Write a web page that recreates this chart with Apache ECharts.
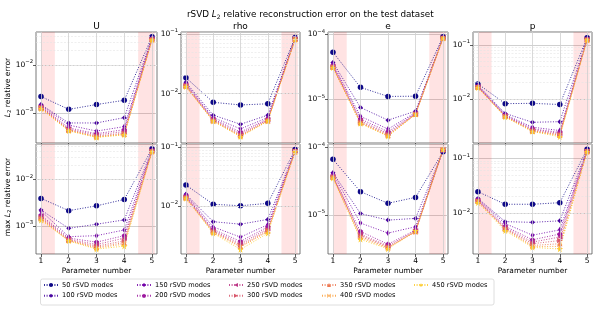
<!DOCTYPE html>
<html><head><meta charset="utf-8">
<script src="https://cdn.jsdelivr.net/npm/echarts@6/dist/echarts.min.js"></script>
<style>html,body{margin:0;padding:0;background:#fff}#c{width:598px;height:309px}</style>
</head><body><div id="c"></div>
<script>
// ---------------- data ----------------
const modes = [50, 100, 150, 200, 250, 300, 350, 400, 450];
const params = [1, 2, 3, 4, 5];
const panelNames = ['U', 'rho', 'e', 'p'];

// L2 relative error (top row)
const U_L2 = [
  [2.2e-3, 1.19e-3, 1.5e-3, 1.84e-3, 0.039],
  [1.5e-3, 6.2e-4, 6.2e-4, 8.0e-4, 0.037],
  [1.45e-3, 5.6e-4, 4.2e-4, 5.2e-4, 0.036],
  [1.38e-3, 4.9e-4, 3.7e-4, 4.5e-4, 0.035],
  [1.33e-3, 4.6e-4, 3.5e-4, 4.1e-4, 0.035],
  [1.3e-3, 4.45e-4, 3.3e-4, 3.8e-4, 0.034],
  [1.27e-3, 4.35e-4, 3.2e-4, 3.65e-4, 0.034],
  [1.25e-3, 4.3e-4, 3.15e-4, 3.55e-4, 0.033],
  [1.23e-3, 4.25e-4, 3.1e-4, 3.5e-4, 0.033]
];
const rho_L2 = [
  [0.0185, 7.2e-3, 6.5e-3, 6.8e-3, 0.087],
  [0.0155, 4.4e-3, 3.1e-3, 4.4e-3, 0.085],
  [0.0147, 4.0e-3, 2.6e-3, 4.0e-3, 0.084],
  [0.0142, 3.8e-3, 2.3e-3, 3.8e-3, 0.083],
  [0.0138, 3.7e-3, 2.15e-3, 3.7e-3, 0.082],
  [0.0136, 3.6e-3, 2.05e-3, 3.6e-3, 0.082],
  [0.0134, 3.55e-3, 2.0e-3, 3.55e-3, 0.081],
  [0.0132, 3.5e-3, 1.96e-3, 3.5e-3, 0.081],
  [0.0131, 3.5e-3, 1.92e-3, 3.5e-3, 0.080]
];
const e_L2 = [
  [5.3e-5, 1.53e-5, 1.11e-5, 1.12e-5, 9.2e-5],
  [3.7e-5, 7.5e-6, 4.8e-6, 6.6e-6, 9.0e-5],
  [3.5e-5, 5.5e-6, 3.5e-6, 6.3e-6, 8.9e-5],
  [3.3e-5, 5.0e-6, 3.2e-6, 6.1e-6, 8.9e-5],
  [3.2e-5, 4.7e-6, 3.0e-6, 6.0e-6, 8.8e-5],
  [3.15e-5, 4.5e-6, 2.9e-6, 5.95e-6, 8.8e-5],
  [3.1e-5, 4.4e-6, 2.8e-6, 5.9e-6, 8.7e-5],
  [3.08e-5, 4.3e-6, 2.75e-6, 5.9e-6, 8.7e-5],
  [3.06e-5, 4.27e-6, 2.72e-6, 5.9e-6, 8.7e-5]
];
const p_L2 = [
  [0.019, 8.2e-3, 8.3e-3, 7.9e-3, 0.136],
  [0.018, 5.4e-3, 3.7e-3, 3.8e-3, 0.132],
  [0.0175, 5.1e-3, 3.0e-3, 2.6e-3, 0.130],
  [0.017, 5.0e-3, 2.8e-3, 2.4e-3, 0.128],
  [0.0168, 4.9e-3, 2.7e-3, 2.3e-3, 0.127],
  [0.0166, 4.8e-3, 2.6e-3, 2.2e-3, 0.126],
  [0.0165, 4.75e-3, 2.55e-3, 2.15e-3, 0.125],
  [0.0163, 4.7e-3, 2.5e-3, 2.1e-3, 0.124],
  [0.0162, 4.64e-3, 2.5e-3, 2.0e-3, 0.124]
];
// max L2 relative error (bottom row)
const U_max = [
  [3.9e-3, 2.13e-3, 2.7e-3, 3.7e-3, 0.045],
  [2.2e-3, 8.9e-4, 1.09e-3, 1.35e-3, 0.043],
  [2.1e-3, 5.9e-4, 6.2e-4, 8.2e-4, 0.042],
  [1.7e-3, 5.5e-4, 4.5e-4, 6.2e-4, 0.041],
  [1.6e-3, 5.2e-4, 4.0e-4, 5.5e-4, 0.041],
  [1.5e-3, 5.0e-4, 3.7e-4, 4.8e-4, 0.040],
  [1.45e-3, 4.9e-4, 3.5e-4, 4.4e-4, 0.040],
  [1.4e-3, 4.8e-4, 3.35e-4, 4.1e-4, 0.039],
  [1.33e-3, 4.8e-4, 3.2e-4, 3.7e-4, 0.039]
];
const rho_max = [
  [0.0228, 0.0107, 0.0101, 0.0111, 0.092],
  [0.0158, 5.4e-3, 4.9e-3, 5.9e-3, 0.089],
  [0.0155, 4.4e-3, 2.95e-3, 4.8e-3, 0.088],
  [0.0148, 4.0e-3, 2.5e-3, 4.4e-3, 0.087],
  [0.0143, 3.8e-3, 2.3e-3, 4.1e-3, 0.086],
  [0.014, 3.7e-3, 2.15e-3, 3.9e-3, 0.086],
  [0.0138, 3.6e-3, 2.05e-3, 3.75e-3, 0.085],
  [0.0136, 3.55e-3, 2.0e-3, 3.65e-3, 0.085],
  [0.0135, 3.43e-3, 1.82e-3, 3.43e-3, 0.084]
];
const e_max = [
  [6.65e-5, 2.21e-5, 1.49e-5, 1.82e-5, 8.6e-5],
  [4.2e-5, 1.05e-5, 8.4e-6, 8.9e-6, 8.8e-5],
  [4.1e-5, 7.6e-6, 5.4e-6, 6.7e-6, 9.0e-5],
  [3.8e-5, 5.7e-6, 3.7e-6, 6.0e-6, 9.1e-5],
  [3.7e-5, 5.2e-6, 3.5e-6, 5.8e-6, 9.2e-5],
  [3.65e-5, 5.0e-6, 3.4e-6, 5.7e-6, 9.2e-5],
  [3.6e-5, 4.8e-6, 3.3e-6, 5.7e-6, 9.3e-5],
  [3.55e-5, 4.6e-6, 3.25e-6, 5.6e-6, 9.3e-5],
  [3.49e-5, 4.37e-6, 3.16e-6, 5.86e-6, 9.3e-5]
];
const p_max = [
  [0.0247, 0.0146, 0.0146, 0.0156, 0.146],
  [0.0187, 7.05e-3, 6.85e-3, 7.3e-3, 0.140],
  [0.018, 6.5e-3, 4.0e-3, 5.0e-3, 0.138],
  [0.0175, 5.8e-3, 3.3e-3, 4.2e-3, 0.136],
  [0.017, 5.5e-3, 3.0e-3, 3.7e-3, 0.135],
  [0.0168, 5.3e-3, 2.8e-3, 3.2e-3, 0.134],
  [0.0166, 5.2e-3, 2.6e-3, 2.8e-3, 0.133],
  [0.0164, 5.1e-3, 2.5e-3, 2.5e-3, 0.133],
  [0.0156, 4.83e-3, 2.41e-3, 2.24e-3, 0.132]
];
const panelData = [U_L2, rho_L2, e_L2, p_L2, U_max, rho_max, e_max, p_max];
const extrapRanges = [[1, 1.5], [4.5, 5.1]];

// ---------------- layout / style ----------------
const yLimits = [
  [2.37e-4, 0.0487], [1.51e-3, 0.107], [2.14e-6, 1.084e-4], [1.53e-3, 0.174],
  [2.51e-4, 0.057], [1.52e-3, 0.114], [2.65e-6, 1.12e-4], [1.82e-3, 0.182]
];
const colLeft = [36, 181, 328, 473];
const colWidth = [121, 119, 120, 119];
const rowTop = [32, 144];
const rowHeight = [111, 110];
const colors = ['#0d0887', '#46039f', '#7201a8', '#9c179e', '#bd3786', '#d8576b', '#ed7953', '#fb9f3a', '#fdca26'];
const symbols = [
  'circle',
  'diamond',
  'path://M0,-1L0.55,0L0,1L-0.55,0Z',
  'path://M0,-1L0.951,-0.309L0.588,0.809L-0.588,0.809L-0.951,-0.309Z',
  'path://M-1,0L1,-1L1,1Z',
  'path://M1,0L-1,-1L-1,1Z',
  'triangle',
  'path://M-1,-0.8L-0.8,-1L0,-0.2L0.8,-1L1,-0.8L0.2,0L1,0.8L0.8,1L0,0.2L-0.8,1L-1,0.8L-0.2,0Z',
  'path://M0,-1L0.225,-0.309L0.951,-0.309L0.363,0.118L0.588,0.809L0,0.382L-0.588,0.809L-0.363,0.118L-0.951,-0.309L-0.225,-0.309Z'
];
const symbolSizes = [5.5, 5, [3.8, 6], 5.3, 5.3, 5.3, 5.3, 5, 6.6];
const FONT = 'DejaVu Sans';

const grids = [], xAxes = [], yAxes = [], series = [];
for (let i = 0; i < 8; i++) {
  const r = Math.floor(i / 4), c = i % 4;
  grids.push({left: colLeft[c], top: rowTop[r], width: colWidth[c], height: rowHeight[r],
    show: true, borderColor: '#555', borderWidth: 0.8, backgroundColor: 'transparent', containLabel: false});
  xAxes.push({type: 'value', gridIndex: i, min: 0.82, max: 5.18,
    axisLine: {show: false, onZero: false},
    axisTick: {show: true, length: 3, lineStyle: {color: '#333', width: 0.8}, customValues: params},
    axisLabel: {show: r === 1, customValues: params, fontSize: 7.5, color: '#000', fontFamily: FONT, margin: 3},
    splitLine: {show: false}});
  yAxes.push({type: 'log', gridIndex: i, logBase: 10, min: yLimits[i][0], max: yLimits[i][1],
    axisLine: {show: false},
    axisTick: {show: true, length: 3, lineStyle: {color: '#333', width: 0.8}},
    axisLabel: {show: true, showMinLabel: false, showMaxLabel: false, margin: 3,
      formatter: function (v) { const e = Math.round(Math.log10(v)); return '{b|10}{s|\u2212' + Math.abs(e) + '}'; },
      rich: {b: {fontSize: 7.5, fontFamily: FONT, color: '#000'},
             s: {fontSize: 5.3, fontFamily: FONT, color: '#000', padding: [0, 0, 6, 0]}}},
    splitLine: {show: true, lineStyle: {color: '#c4c4c4', width: 0.8}}});

  // minor grid & vertical grid lines & extrapolation shading
  const minor = [];
  const lo = Math.floor(Math.log10(yLimits[i][0])), hi = Math.ceil(Math.log10(yLimits[i][1]));
  for (let k = lo; k < hi; k++) {
    for (let m = 2; m <= 9; m++) {
      const v = m * Math.pow(10, k);
      if (v > yLimits[i][0] && v < yLimits[i][1]) minor.push({yAxis: v, lineStyle: {color: '#e4e4e4', width: 0.6, type: [2, 1.5]}});
    }
  }
  params.forEach(p => minor.push({xAxis: p, lineStyle: {color: '#cfcfcf', width: 0.8, type: 'solid'}}));
  series.push({type: 'line', xAxisIndex: i, yAxisIndex: i, data: [], silent: true, z: 1,
    markArea: {silent: true, itemStyle: {color: 'rgba(255,0,0,0.11)'},
      data: extrapRanges.map(rg => [{xAxis: rg[0]}, {xAxis: rg[1]}])},
    markLine: {silent: true, symbol: ['none', 'none'], label: {show: false}, animation: false, data: minor}});

  panelData[i].forEach((vals, s) => {
    series.push({type: 'line', name: modes[s] + ' rSVD modes', xAxisIndex: i, yAxisIndex: i, z: 3,
      data: params.map((p, j) => [p, vals[j]]),
      symbol: symbols[s], symbolSize: symbolSizes[s],
      itemStyle: {color: colors[s], borderWidth: 0},
      lineStyle: {color: colors[s], width: 1, type: [1, 1.6], opacity: 0.85},
      emphasis: {disabled: true}});
  });
}

const legendCols = [[0, 1], [2, 3], [4, 5], [6, 7], [8]];
const legendLeft = [43, 136, 228, 321, 413];
const legends = legendCols.map((idx, k) => ({
  orient: 'vertical', left: legendLeft[k], top: 281.5, itemWidth: 14, itemHeight: 5, itemGap: 3.7,
  padding: 0, selectedMode: false,
  textStyle: {fontSize: 6.6, color: '#000', fontFamily: FONT, padding: [0, 0, 0, -1]},
  data: idx.map(s => modes[s] + ' rSVD modes')
}));

const graphics = [
  {type: 'rect', shape: {x: 40.5, y: 279, width: 453.5, height: 26, r: 2}, style: {fill: 'none', stroke: '#d5d5d5', lineWidth: 0.8}, z: -1},
  {type: 'text', x: 187, y: 15, style: {
    text: '{a|rSVD }{i|L}{u|2}{a| relative reconstruction error on the test dataset}',
    textVerticalAlign: 'middle',
    rich: {a: {fontSize: 8.8, fontFamily: FONT, fill: '#000'}, i: {fontSize: 8.8, fontFamily: FONT, fontStyle: 'italic', fill: '#000'},
           u: {fontSize: 6, fontFamily: FONT, fill: '#000', padding: [4, 0, 0, 0]}}}},
  {type: 'text', x: 8, y: 87.5, rotation: Math.PI / 2, style: {
    text: '{i|L}{u|2}{a| relative error}', textAlign: 'center', textVerticalAlign: 'middle',
    rich: {a: {fontSize: 7.6, fontFamily: FONT, fill: '#000'}, i: {fontSize: 7.6, fontFamily: FONT, fontStyle: 'italic', fill: '#000'},
           u: {fontSize: 5.3, fontFamily: FONT, fill: '#000', padding: [4, 0, 0, 0]}}}},
  {type: 'text', x: 8, y: 197, rotation: Math.PI / 2, style: {
    text: '{a|max }{i|L}{u|2}{a| relative error}', textAlign: 'center', textVerticalAlign: 'middle',
    rich: {a: {fontSize: 7.6, fontFamily: FONT, fill: '#000'}, i: {fontSize: 7.6, fontFamily: FONT, fontStyle: 'italic', fill: '#000'},
           u: {fontSize: 5.3, fontFamily: FONT, fill: '#000', padding: [4, 0, 0, 0]}}}}
];
panelNames.forEach((nm, c) => {
  graphics.push({type: 'text', x: colLeft[c] + colWidth[c] / 2, y: 26.5,
    style: {text: nm, textAlign: 'center', textVerticalAlign: 'middle', font: '9px "DejaVu Sans"', fill: '#000'}});
  graphics.push({type: 'text', x: colLeft[c] + colWidth[c] / 2, y: 271,
    style: {text: 'Parameter number', textAlign: 'center', textVerticalAlign: 'middle', font: '7.4px "DejaVu Sans"', fill: '#000'}});
});

const chart = echarts.init(document.getElementById('c'), null, {renderer: 'canvas'});
chart.setOption({
  animation: false,
  backgroundColor: '#fff',
  textStyle: {fontFamily: FONT},
  grid: grids, xAxis: xAxes, yAxis: yAxes, series: series,
  legend: legends, graphic: graphics
});
</script>
</body></html>
